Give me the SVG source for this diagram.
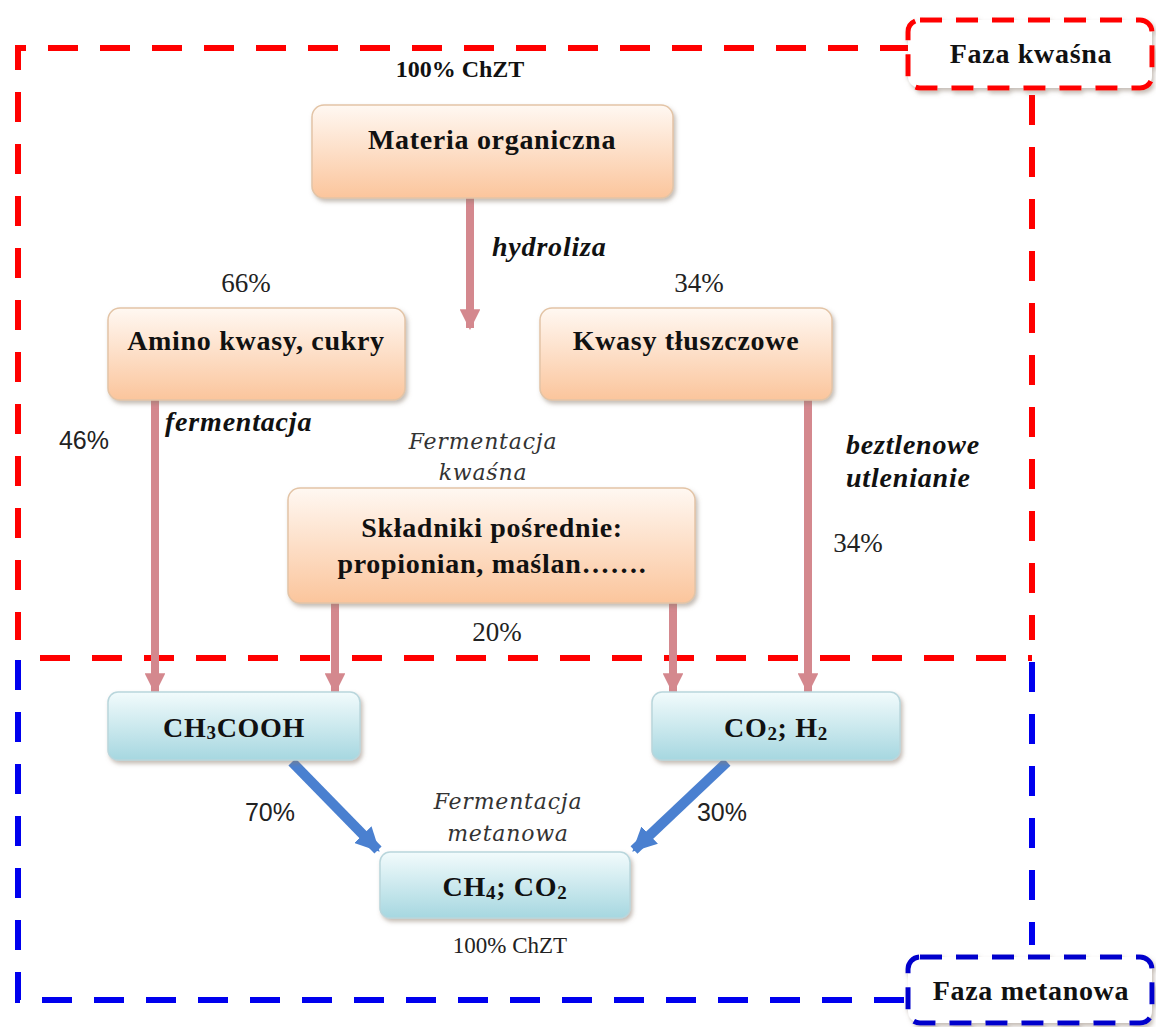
<svg xmlns="http://www.w3.org/2000/svg" width="1156" height="1027" viewBox="0 0 1156 1027">
  <style>
    .b { font-family: "Liberation Serif", serif; font-weight: bold; font-size: 28px; letter-spacing: 0.7px; fill: #111; text-anchor: middle; }
    .bi { font-family: "Liberation Serif", serif; font-weight: bold; font-style: italic; font-size: 28px; letter-spacing: 0.8px; fill: #111; }
    .it { font-family: "DejaVu Serif", serif; font-style: italic; font-size: 22px; letter-spacing: 0.8px; fill: #333; text-anchor: middle; }
    .pct { font-family: "Liberation Sans", sans-serif; font-size: 25px; fill: #222; text-anchor: middle; }
    .pcts { font-family: "Liberation Serif", serif; font-size: 27px; fill: #222; text-anchor: middle; }
    .peach { fill: url(#gPeach); stroke: #e3c4a6; stroke-width: 1.5; filter: url(#sh); }
    .cyan { fill: url(#gCyan); stroke: #b9d6dc; stroke-width: 1.5; filter: url(#sh); }
    .red { fill: none; stroke: #ff0000; stroke-width: 6; stroke-dasharray: 30 22; }
    .blue { fill: none; stroke: #0000ee; stroke-width: 6; stroke-dasharray: 30 22; }
    .pk { stroke: #d4888e; stroke-width: 8; fill: none; }
    .bl { stroke: #4a80d0; stroke-width: 10; fill: none; }
    .sub { font-size: 19px; }
  </style>
  <defs>
    <linearGradient id="gPeach" x1="0" y1="0" x2="0" y2="1">
      <stop offset="0" stop-color="#fff8f2"/>
      <stop offset="1" stop-color="#fbc59c"/>
    </linearGradient>
    <linearGradient id="gCyan" x1="0" y1="0" x2="0" y2="1">
      <stop offset="0" stop-color="#f2fbfc"/>
      <stop offset="1" stop-color="#a6d7e0"/>
    </linearGradient>
    <filter id="sh" x="-10%" y="-10%" width="125%" height="130%">
      <feDropShadow dx="2" dy="3" stdDeviation="2" flood-color="#8a7a6a" flood-opacity="0.5"/>
    </filter>
    <marker id="aPk" viewBox="0 0 10 10" refX="9" refY="5" markerWidth="2.6" markerHeight="2.6" orient="auto" markerUnits="strokeWidth">
      <path d="M0,0 L10,5 L0,10 z" fill="#d4888e"/>
    </marker>
    <marker id="aBl" viewBox="0 0 10 10" refX="9" refY="5" markerWidth="2.4" markerHeight="2.4" orient="auto" markerUnits="strokeWidth">
      <path d="M0,0 L10,5 L0,10 z" fill="#4a80d0"/>
    </marker>
  </defs>

  <rect width="1156" height="1027" fill="#ffffff"/>

  <!-- phase frames -->
  <g id="frames">
    <path class="blue" d="M18,660 V1000 H910"/>
    <path class="blue" d="M1032,662 V945"/>
    <path class="red" d="M910,48 H18 V640"/>
    <path class="red" d="M1032,95 V640"/>
    <path class="red" d="M40,658 H1032"/>
  </g>

  <!-- connectors -->
  <g id="connectors">
    <line class="pk" x1="470" y1="198" x2="470" y2="328" marker-end="url(#aPk)"/>
    <line class="pk" x1="155" y1="400" x2="155" y2="692" marker-end="url(#aPk)"/>
    <line class="pk" x1="335" y1="603" x2="335" y2="692" marker-end="url(#aPk)"/>
    <line class="pk" x1="673" y1="603" x2="673" y2="692" marker-end="url(#aPk)"/>
    <line class="pk" x1="808" y1="400" x2="808" y2="692" marker-end="url(#aPk)"/>
    <line class="bl" x1="292" y1="762" x2="378" y2="850" marker-end="url(#aBl)"/>
    <line class="bl" x1="727" y1="762" x2="634" y2="850" marker-end="url(#aBl)"/>
  </g>

  <!-- phase labels -->
  <g id="faza-kwasna">
    <rect x="908" y="20" width="244" height="68" rx="12" fill="#ffffff" stroke="#ff0000" stroke-width="5" stroke-dasharray="22 14" filter="url(#sh)"/>
    <text class="b" x="1031" y="63">Faza kwaśna</text>
  </g>
  <g id="faza-metanowa">
    <rect x="908" y="957" width="244" height="66" rx="12" fill="#ffffff" stroke="#0000cc" stroke-width="5" stroke-dasharray="22 14" filter="url(#sh)"/>
    <text class="b" x="1031" y="1000">Faza metanowa</text>
  </g>

  <text class="b" x="460" y="77" style="font-size:24px;letter-spacing:0">100% ChZT</text>

  <g id="materia">
    <rect class="peach" x="312" y="105" width="361" height="93" rx="12"/>
    <text class="b" x="492" y="149">Materia organiczna</text>
  </g>
  <text class="bi" x="492" y="256">hydroliza</text>

  <text class="pcts" x="246" y="292">66%</text>
  <text class="pcts" x="699" y="292">34%</text>

  <g id="amino">
    <rect class="peach" x="108" y="308" width="297" height="92" rx="12"/>
    <text class="b" x="256" y="350">Amino kwasy, cukry</text>
  </g>
  <g id="kwasy">
    <rect class="peach" x="540" y="308" width="292" height="92" rx="12"/>
    <text class="b" x="686" y="350">Kwasy tłuszczowe</text>
  </g>

  <text class="bi" x="165" y="431">fermentacja</text>
  <text class="pct" x="84" y="449">46%</text>
  <text class="it" x="483" y="449">Fermentacja</text>
  <text class="it" x="483" y="480">kwaśna</text>

  <text class="bi" x="846" y="454">beztlenowe</text>
  <text class="bi" x="846" y="487">utlenianie</text>
  <text class="pcts" x="858" y="552">34%</text>

  <g id="skladniki">
    <rect class="peach" x="288" y="488" width="407" height="115" rx="12"/>
    <text class="b" x="492" y="537">Składniki pośrednie:</text>
    <text class="b" x="492" y="573">propionian, maślan…….</text>
  </g>
  <text class="pcts" x="497" y="641">20%</text>

  <g id="ch3cooh">
    <rect class="cyan" x="108" y="692" width="252" height="68" rx="10"/>
    <text class="b" x="234" y="737">CH<tspan class="sub" dy="2">3</tspan><tspan dy="-2">COOH</tspan></text>
  </g>
  <g id="co2h2">
    <rect class="cyan" x="652" y="692" width="248" height="68" rx="10"/>
    <text class="b" x="776" y="737">CO<tspan class="sub" dy="3">2</tspan><tspan dy="-3">; H</tspan><tspan class="sub" dy="3">2</tspan></text>
  </g>

  <text class="pct" x="270" y="821">70%</text>
  <text class="pct" x="722" y="821">30%</text>
  <text class="it" x="508" y="809">Fermentacja</text>
  <text class="it" x="508" y="841">metanowa</text>

  <g id="ch4co2">
    <rect class="cyan" x="380" y="852" width="250" height="66" rx="10"/>
    <text class="b" x="505" y="896">CH<tspan class="sub" dy="3">4</tspan><tspan dy="-3">; CO</tspan><tspan class="sub" dy="3">2</tspan></text>
  </g>
  <text class="pcts" x="510" y="953" style="font-size:23px">100% ChZT</text>
</svg>
